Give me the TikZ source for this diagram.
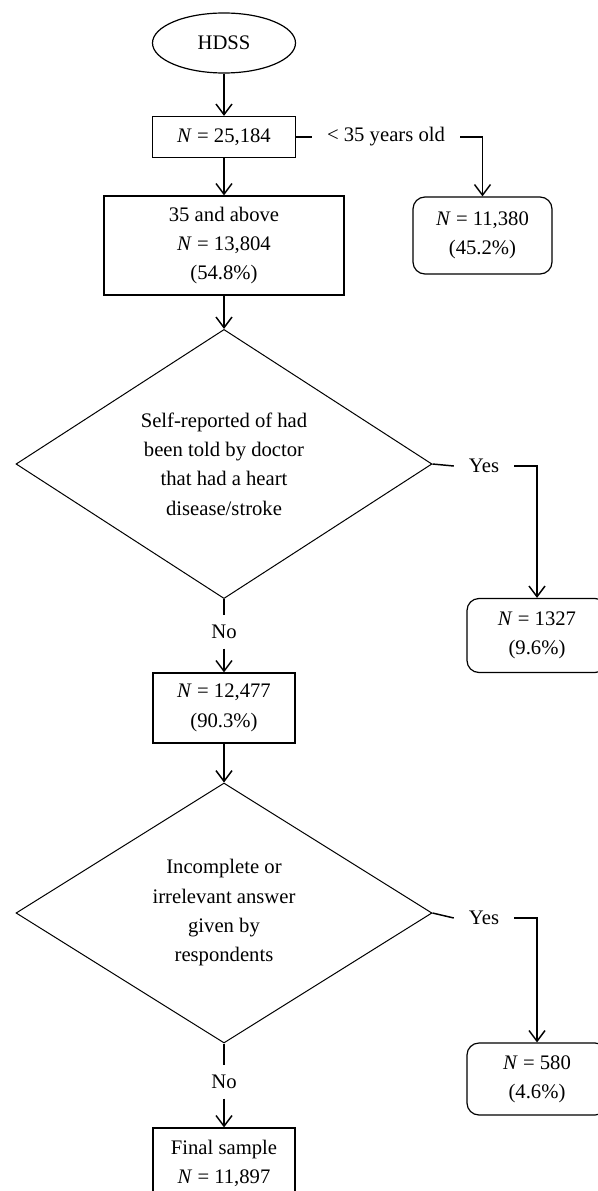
\documentclass[tikz,border=0pt]{standalone}
\usepackage{fontspec}
\setmainfont{Liberation Serif}
\usetikzlibrary{shapes.geometric,arrows.meta}

\tikzset{every picture/.style={line width=0.75pt}}
\tikzset{
  txt/.style={font=\fontsize{15.5}{22}\selectfont, align=center, inner sep=0pt},
  box/.style={txt, draw, line width=0.9pt, rectangle},
  rbox/.style={box, rounded corners=9pt},
  decide/.style={txt, draw, line width=0.75pt, diamond},
  lbl/.style={txt, inner xsep=11pt, inner ysep=0pt},
  nolbl/.style={txt, inner ysep=7pt},
  flow/.style={line width=1.1pt, -{Straight Barb[length=8pt,width=12pt,line width=1.1pt]}},
  link/.style={line width=1.1pt}
}

\begin{document}
\begin{tikzpicture}[x=0.75pt,y=0.75pt,yscale=-1,xscale=1]
\useasboundingbox (0,0) rectangle (597,1191); %set diagram size 597 x 1191

% Start
\node (hdss) [txt, draw, line width=0.9pt, ellipse, minimum width=107.25pt, minimum height=45pt] at (224,43) {HDSS};
% Boxes
\node (total) [box, minimum width=107.25pt, minimum height=30.75pt] at (224,137) {\textit{N} = 25,184};
\node (young) [lbl] at (386,137) {< 35 years old};
\node (nyoung) [rbox, minimum width=104.25pt, minimum height=57.75pt] at (482.5,235.5) {\textit{N} = 11,380\\(45.2\%)};
\node (older) [box, minimum width=180pt, minimum height=74.25pt] at (224,245.5) {35 and above\\\textit{N} = 13,804\\(54.8\%)};
% Decision 1
\node (askcvd) [decide, minimum width=312pt, minimum height=182.25pt] at (224,464) {Self-reported of had\\been told by doctor\\that had a heart\\disease/stroke};
\node (yesa) [lbl] at (484,466) {Yes};
\node (ncvd) [rbox, minimum width=105pt, minimum height=55.5pt] at (537,635.5) {\textit{N} = 1327\\(9.6\%)};
\node (noa) [nolbl] at (224,632) {No};
\node (nocvd) [box, minimum width=106.5pt, minimum height=52.5pt] at (224,708) {\textit{N} = 12,477\\(90.3\%)};
% Decision 2
\node (askans) [decide, minimum width=312pt, minimum height=195pt] at (224,913) {Incomplete or\\irrelevant answer\\given by\\respondents};
\node (yesb) [lbl] at (484,918) {Yes};
\node (nmiss) [rbox, minimum width=105pt, minimum height=54pt] at (537,1079) {\textit{N} = 580\\(4.6\%)};
\node (nob) [nolbl] at (224,1082) {No};
\node (final) [box, minimum width=106.5pt, minimum height=53.25pt] at (224,1163.5) {Final sample\\\textit{N} = 11,897};

% Connectors
\draw [flow] (hdss) -- (total);
\draw [flow] (total) -- (older);
\draw [link] (total.east) -- (young.west);
\draw [flow] (young.east) -| (nyoung.north);
\draw [flow] (older) -- (askcvd.north);
\draw [link] (askcvd.east) -- (yesa.west);
\draw [flow] (yesa.east) -| (ncvd.north);
\draw [link] (askcvd.south) -- (noa.north);
\draw [flow] (noa.south) -- (nocvd.north);
\draw [flow] (nocvd) -- (askans.north);
\draw [link] (askans.east) -- (yesb.west);
\draw [flow] (yesb.east) -| (nmiss.north);
\draw [link] (askans.south) -- (nob.north);
\draw [flow] (nob.south) -- (final.north);

\end{tikzpicture}
\end{document}
